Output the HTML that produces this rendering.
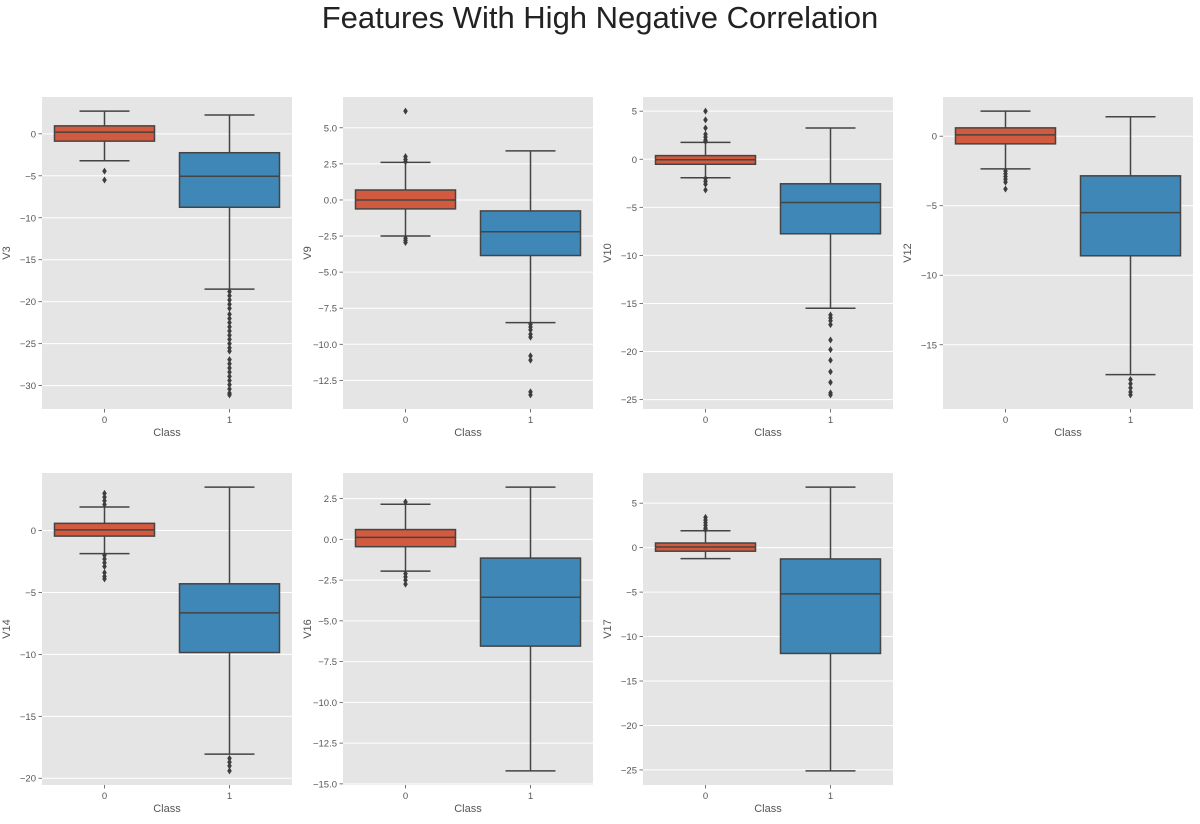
<!DOCTYPE html>
<html><head><meta charset="utf-8"><style>
body{margin:0;background:#fff;width:1200px;height:819px;overflow:hidden;font-family:"Liberation Sans","DejaVu Sans",sans-serif}
</style></head><body>
<svg id="fig" width="1200" height="819" xmlns="http://www.w3.org/2000/svg">
<text x="600" y="28" text-anchor="middle" font-size="31" fill="#222" font-family="Liberation Sans, sans-serif">Features With High Negative Correlation</text>
</svg>
<script>
// Data: each panel has per-class stats [lowWhisker, Q1, median, Q3, highWhisker] and fliers
const features = ["V3","V9","V10","V12","V14","V16","V17"];
const categories = ["0","1"];
const stats0 = [
 [-3.2,-0.87,0.2,0.95,2.7],
 [-2.5,-0.62,0,0.69,2.6],
 [-1.93,-0.52,-0.05,0.38,1.75],
 [-2.35,-0.55,0.1,0.6,1.8],
 [-1.86,-0.45,0.05,0.58,1.9],
 [-1.95,-0.45,0.12,0.6,2.15],
 [-1.23,-0.4,0.07,0.52,1.9]
];
const stats1 = [
 [-18.5,-8.75,-5.05,-2.25,2.25],
 [-8.5,-3.85,-2.2,-0.76,3.4],
 [-15.5,-7.75,-4.5,-2.55,3.25],
 [-17.15,-8.6,-5.5,-2.85,1.4],
 [-18.05,-9.85,-6.65,-4.3,3.5],
 [-14.2,-6.55,-3.55,-1.15,3.2],
 [-25.1,-11.9,-5.2,-1.27,6.8]
];
const fliers0 = [
 [-4.45,-5.5],
 [6.15,3.0,2.8,2.65,-2.65,-2.8,-2.95],
 [5.0,4.1,3.25,2.6,2.3,2.0,1.85,-2.0,-2.3,-2.6,-3.2],
 [-2.5,-2.7,-2.9,-3.1,-3.3,-3.8],
 [3.0,2.7,2.4,2.1,-2.0,-2.3,-2.6,-2.9,-3.4,-3.7,-3.9],
 [2.3,-2.1,-2.3,-2.5,-2.75],
 [3.4,3.1,2.8,2.5,2.2,2.0]
];
const fliers1 = [
 [-18.8,-19.3,-19.8,-20.3,-20.8,-21.5,-22,-22.5,-23,-23.5,-24,-24.5,-25,-25.5,-25.9,-26.9,-27.4,-27.9,-28.4,-28.9,-29.4,-29.9,-30.4,-30.9,-31.1],
 [-8.6,-8.8,-9.0,-9.3,-9.5,-10.8,-11.1,-13.3,-13.5],
 [-16.2,-16.5,-16.8,-17.2,-18.8,-19.8,-20.9,-22.1,-23.2,-24.3,-24.5],
 [-17.5,-17.8,-18.1,-18.4,-18.6],
 [-18.4,-18.7,-19.0,-19.4],
 [],
 []
];
const tickLabels = [
 ["0","-5","-10","-15","-20","-25","-30"],
 ["5.0","2.5","0.0","-2.5","-5.0","-7.5","-10.0","-12.5"],
 ["5","0","-5","-10","-15","-20","-25"],
 ["0","-5","-10","-15"],
 ["0","-5","-10","-15","-20"],
 ["2.5","0.0","-2.5","-5.0","-7.5","-10.0","-12.5","-15.0"],
 ["5","0","-5","-10","-15","-20","-25"]
];
const colX = [42,343,643,943];
const rowY = [97,473];
const W = 250, H = 312;
const boxColors = ["#d25a3f","#3e87b6"];
const NS = "http://www.w3.org/2000/svg";
const svg = document.getElementById('fig');
function mk(tag, attrs, parent){
  const e = document.createElementNS(NS, tag);
  for (const k in attrs) e.setAttribute(k, attrs[k]);
  (parent||svg).appendChild(e); return e;
}
features.forEach((f, i) => {
  const ax = colX[i%4], ay = rowY[Math.floor(i/4)];
  const g = mk('g', {});
  
  
  const all = [].concat(stats0[i], stats1[i], fliers0[i], fliers1[i]);
  const mn = Math.min(...all), mx = Math.max(...all), span = mx - mn;
  const lo = mn - 0.05*span, hi = mx + 0.05*span;
  const y = v => ay + (hi - v) / (hi - lo) * H;
  const x = c => ax + W*(c + 0.5)/2;
  const bg = mk('rect', {x:ax, y:ay, width:W, height:H, fill:'#e5e5e5'}, g);
  
  
  tickLabels[i].forEach(t => {
    const v = parseFloat(t), yy = y(v);
    const gl = mk('line', {x1:ax, x2:ax+W, y1:yy, y2:yy, stroke:'#fff', 'stroke-width':1}, g);
    
    
    mk('line', {x1:ax-3.5, x2:ax, y1:yy, y2:yy, stroke:'#555', 'stroke-width':0.8}, g);
    const tl = mk('text', {x:ax-6, y:yy+3.5, 'text-anchor':'end', 'font-size':9.5, fill:'#555'}, g);
    
    
    tl.textContent = t.replace('-', '\u2212');
  });
  const yl = mk('text', {x:0, y:0, 'text-anchor':'middle', 'font-size':11, fill:'#555', transform:'translate(' + (ax-32) + ',' + (ay+H/2) + ') rotate(-90)'}, g);
  
  
  yl.textContent = f;
  categories.forEach((c, ci) => {
    const cx = x(ci);
    mk('line', {x1:cx, x2:cx, y1:ay+H, y2:ay+H+3.5, stroke:'#555', 'stroke-width':0.8}, g);
    const xt = mk('text', {x:cx, y:ay+H+14, 'text-anchor':'middle', 'font-size':9.5, fill:'#555'}, g);
    
    
    xt.textContent = c;
    const s = ci === 0 ? stats0[i] : stats1[i];
    const fl = ci === 0 ? fliers0[i] : fliers1[i];
    const bw = W/2*0.8, cw = W/2*0.4;
    const grp = mk('g', {}, g);
    
    
    mk('line', {x1:cx, x2:cx, y1:y(s[4]), y2:y(s[3]), stroke:'#444', 'stroke-width':1.5}, grp);
    mk('line', {x1:cx, x2:cx, y1:y(s[1]), y2:y(s[0]), stroke:'#444', 'stroke-width':1.5}, grp);
    mk('line', {x1:cx-cw/2, x2:cx+cw/2, y1:y(s[4]), y2:y(s[4]), stroke:'#444', 'stroke-width':1.5}, grp);
    mk('line', {x1:cx-cw/2, x2:cx+cw/2, y1:y(s[0]), y2:y(s[0]), stroke:'#444', 'stroke-width':1.5}, grp);
    mk('rect', {x:cx-bw/2, y:y(s[3]), width:bw, height:y(s[1])-y(s[3]), fill:boxColors[ci], stroke:'#444', 'stroke-width':1.5}, grp);
    mk('line', {x1:cx-bw/2, x2:cx+bw/2, y1:y(s[2]), y2:y(s[2]), stroke:'#444', 'stroke-width':1.5}, grp);
    fl.forEach(v => {
      const yy = y(v);
      const d = mk('path', {d:'M'+cx+' '+(yy-3.5)+' L'+(cx+2.3)+' '+yy+' L'+cx+' '+(yy+3.5)+' L'+(cx-2.3)+' '+yy+' Z', fill:'#3d3d3d'}, grp);
      
      
    });
  });
  const xl = mk('text', {x:ax+W/2, y:ay+H+27, 'text-anchor':'middle', 'font-size':11, fill:'#555'}, g);
  
  
  xl.textContent = 'Class';
});
</script>
</body></html>
